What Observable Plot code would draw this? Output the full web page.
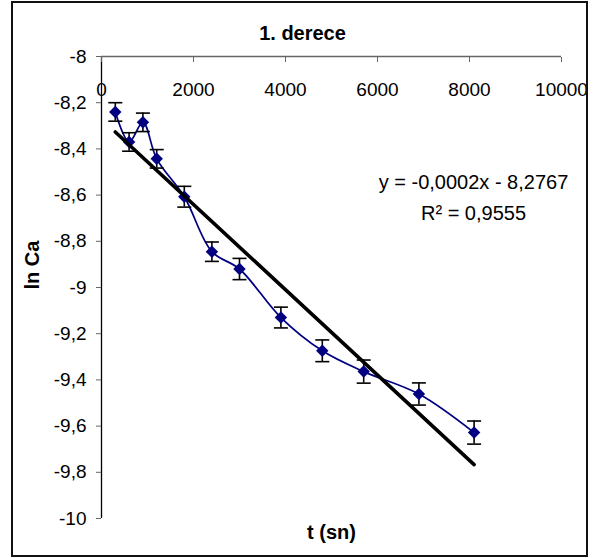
<!DOCTYPE html>
<html><head><meta charset="utf-8">
<script src="https://cdn.jsdelivr.net/npm/d3@7"></script>
<script src="https://cdn.jsdelivr.net/npm/@observablehq/plot@0.6"></script>
<style>
body{margin:0;background:#fff}
#wrap{position:relative;width:596px;height:558px}
#border{position:absolute;left:11px;top:1px;width:577px;height:556px;border:2px solid #111;box-sizing:border-box;pointer-events:none}
</style></head><body>
<div id="wrap"><div id="border"></div></div>
<script>
const times = [300, 600, 900, 1200, 1800, 2400, 3000, 3900, 4800, 5700, 6900, 8100];
const lnCa = [-8.24, -8.37, -8.285, -8.443, -8.607, -8.845, -8.92, -9.13, -9.274, -9.364, -9.461, -9.628];
const errs = [0.04, 0.04, 0.04, 0.04, 0.045, 0.042, 0.046, 0.045, 0.047, 0.05, 0.048, 0.05];
const xTicks = [0, 2000, 4000, 6000, 8000, 10000];
const xTickLabels = ["0", "2000", "4000", "6000", "8000", "10000"];
const yTicks = [-8, -8.2, -8.4, -8.6, -8.8, -9, -9.2, -9.4, -9.6, -9.8, -10];
const yTickLabels = ["-8", "-8,2", "-8,4", "-8,6", "-8,8", "-9", "-9,2", "-9,4", "-9,6", "-9,8", "-10"];
const titleText = "1. derece";
const xLabel = "t (sn)";
const yLabel = "ln Ca";
const equationLines = ["y = -0,0002x - 8,2767", "R² = 0,9555"];

const data = times.map((t, i) => ({t, v: lnCa[i], e: errs[i]}));
const capSymbol = {draw(ctx) { ctx.moveTo(-7, 0); ctx.lineTo(7, 0); }};
const navy = "#000080";

const chart = Plot.plot({
  width: 596, height: 558,
  marginLeft: 101, marginRight: 35, marginTop: 56, marginBottom: 40,
  style: {fontFamily: "'Liberation Sans', Arial, sans-serif", fontSize: "19px", background: "transparent", color: "#000"},
  x: {domain: [xTicks[0], xTicks[xTicks.length - 1]]},
  y: {domain: [yTicks[yTicks.length - 1], yTicks[0]]},
  marks: [
    Plot.ruleX([xTicks[0]], {stroke: "#000", strokeWidth: 1.3}),
    Plot.ruleY([yTicks[0]], {stroke: "#666", strokeWidth: 1.3}),
    Plot.axisY({ticks: yTicks, tickFormat: d => yTickLabels[yTicks.indexOf(d)], tickSize: 5, tickPadding: 10, label: null, stroke: "#666", fontSize: 19}),
    Plot.axisX({anchor: "top", ticks: xTicks, tickFormat: d => xTickLabels[xTicks.indexOf(d)], tickSize: -5, tickPadding: -28.5, lineAnchor: "middle", label: null, stroke: "#666", fontSize: 19}),
    Plot.line(data, {x: "t", y: "v", curve: "catmull-rom", stroke: navy, strokeWidth: 1.75}),
    Plot.ruleX(data, {x: "t", y1: d => d.v - d.e, y2: d => d.v + d.e, stroke: "#000", strokeWidth: 1.6}),
    Plot.dot(data, {x: "t", y: d => d.v + d.e, symbol: capSymbol, stroke: "#000", strokeWidth: 1.6, fill: "none"}),
    Plot.dot(data, {x: "t", y: d => d.v - d.e, symbol: capSymbol, stroke: "#000", strokeWidth: 1.6, fill: "none"}),
    Plot.dot(data, {x: "t", y: "v", symbol: "diamond2", r: 5.6, fill: navy, stroke: "none"}),
    Plot.linearRegressionY(data, {x: "t", y: "v", ci: 0, stroke: "#000", strokeWidth: 3.6, strokeLinecap: "round"}),
    Plot.text([titleText], {frameAnchor: "top", dx: -29, dy: -23, lineAnchor: "middle", fontSize: 20, fontWeight: "bold"}),
    Plot.text([xLabel], {frameAnchor: "bottom", dy: 14, lineAnchor: "middle", fontSize: 20, fontWeight: "bold"}),
    Plot.text([yLabel], {frameAnchor: "left", dx: -69, dy: 2, rotate: -90, lineAnchor: "middle", fontSize: 20, fontWeight: "bold"}),
    Plot.text([equationLines.join("\n")], {frameAnchor: "top-right", dx: -88, dy: 138, textAnchor: "middle", lineAnchor: "middle", lineHeight: 1.58, fontSize: 20})
  ]
});
document.getElementById("wrap").appendChild(chart);
</script>
</body></html>
